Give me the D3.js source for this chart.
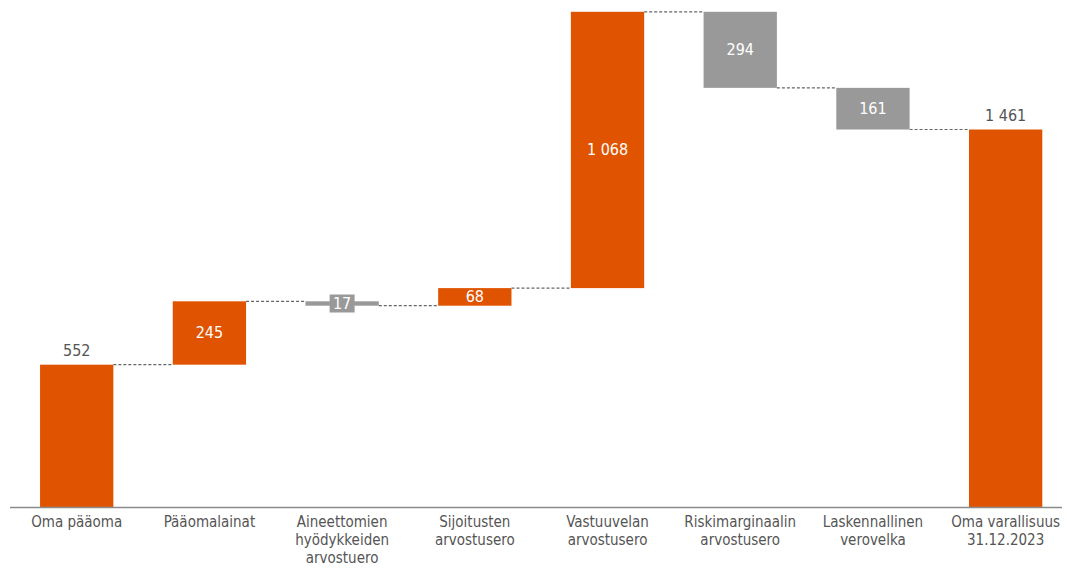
<!DOCTYPE html>
<html><head><meta charset="utf-8">
<script src="https://cdn.jsdelivr.net/npm/d3@7"></script>
<style>body{margin:0;background:#fff}</style>
</head><body>
<svg id="c" width="1067" height="569"></svg>
<script>
const categories = [["Oma pääoma"],["Pääomalainat"],["Aineettomien","hyödykkeiden","arvostuero"],["Sijoitusten","arvostusero"],["Vastuuvelan","arvostusero"],["Riskimarginaalin","arvostusero"],["Laskennallinen","verovelka"],["Oma varallisuus","31.12.2023"]];
const values = [552, 245, -17, 68, 1068, -294, -161, 1461];
const kinds = ["total","delta","delta","delta","delta","delta","delta","total"];
const labels = ["552","245","17","68","1 068","294","161","1 461"];

const ORANGE = "#E05300", GRAY = "#999999";
const svg = d3.select("#c");
const keys = categories.map(c => c.join(" "));
const x = d3.scaleBand().domain(keys).range([10.35, 1072]).paddingInner(0.4476).paddingOuter(0.2238);
const y = d3.scaleLinear().domain([0, 1916]).range([507.5, 11.8]);

let run = 0;
const bars = values.map((v, i) => {
  let lo, hi;
  if (kinds[i] === "total") { lo = 0; hi = v; run = v; }
  else { lo = Math.min(run, run + v); hi = Math.max(run, run + v); run += v; }
  return {k: keys[i], v, lo, hi, end: run, kind: kinds[i], label: labels[i]};
});

// connectors
for (let i = 0; i < bars.length - 1; i++) {
  svg.append("line")
    .attr("x1", x(bars[i].k) + x.bandwidth()).attr("x2", x(bars[i+1].k))
    .attr("y1", y(bars[i].end)).attr("y2", y(bars[i].end))
    .attr("stroke", "#666").attr("stroke-width", 1.2).attr("stroke-dasharray", "3,2");
}

svg.selectAll("rect.bar").data(bars).enter().append("rect")
  .attr("x", d => x(d.k)).attr("width", x.bandwidth())
  .attr("y", d => y(d.hi)).attr("height", d => y(d.lo) - y(d.hi))
  .attr("fill", d => (d.kind === "total" || d.v > 0) ? ORANGE : GRAY);

// axis line
svg.append("line").attr("x1", 10).attr("x2", 1062).attr("y1", 507.5).attr("y2", 507.5)
  .attr("stroke", "#8a8a8a").attr("stroke-width", 1.5);

const font = "'Liberation Sans Narrow','DejaVu Sans Condensed','Roboto',sans-serif";

bars.forEach(d => {
  const cx = x(d.k) + x.bandwidth() / 2;
  if (d.kind === "total") {
    svg.append("text").attr("x", cx).attr("y", y(d.hi) - 9).attr("text-anchor", "middle")
      .attr("font-family", font).attr("font-size", 16).attr("fill", "#555").text(d.label);
  } else {
    const cy = (y(d.lo) + y(d.hi)) / 2;
    if (y(d.lo) - y(d.hi) < 16) {
      svg.append("rect").attr("x", cx - 12.5).attr("y", cy - 9).attr("width", 25).attr("height", 18)
        .attr("fill", d.v > 0 ? ORANGE : GRAY);
    }
    svg.append("text").attr("x", cx).attr("y", cy + 5.5).attr("text-anchor", "middle")
      .attr("font-family", font).attr("font-size", 16).attr("fill", "#fff").text(d.label);
  }
});

categories.forEach((c, i) => {
  const cx = x(keys[i]) + x.bandwidth() / 2;
  const t = svg.append("text").attr("text-anchor", "middle").attr("font-family", font)
    .attr("font-size", 15).attr("fill", "#555");
  c.forEach((line, j) => t.append("tspan").attr("x", cx).attr("y", 527 + j * 18).text(line));
});
</script>
</body></html>
